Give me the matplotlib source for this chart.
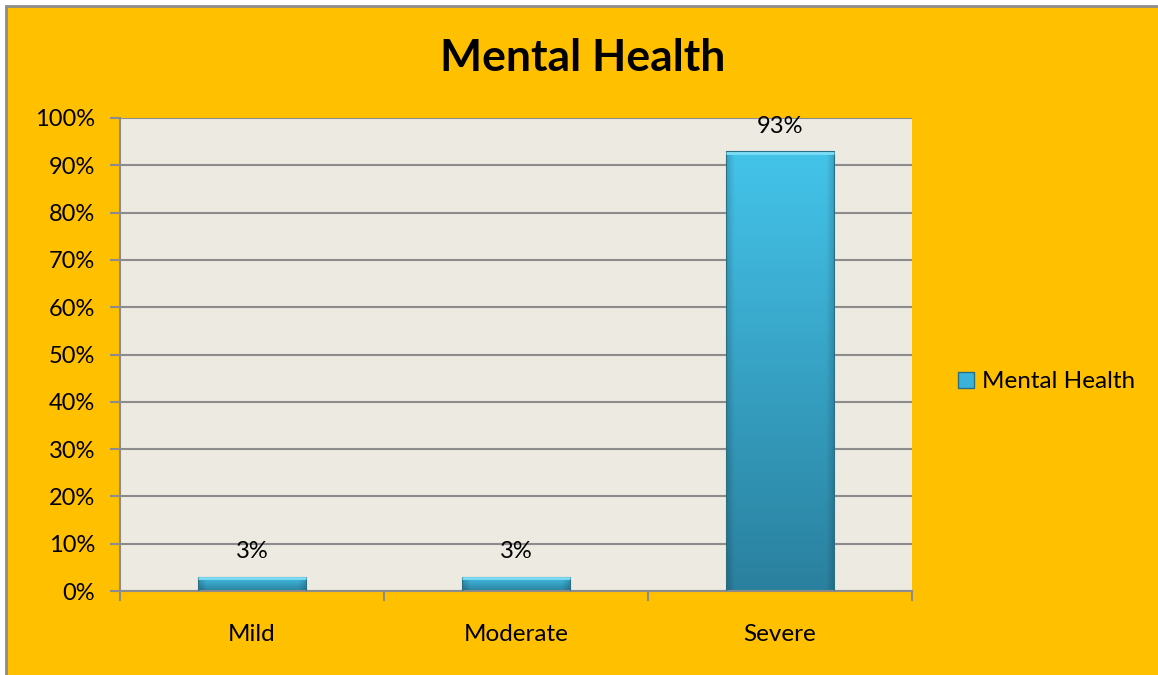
import numpy as np
import matplotlib.pyplot as plt
from matplotlib.patches import Rectangle

categories = ['Mild', 'Moderate', 'Severe']
values = [3, 3, 93]
labels = ['3%', '3%', '93%']
yticks = list(range(0, 101, 10))

plt.rcParams['font.family'] = ['Lato', 'DejaVu Sans']

W, H = 1158, 675
fig = plt.figure(figsize=(W / 100, H / 100), dpi=100, facecolor='white')

# yellow chart area with gray frame (cut off on right/bottom)
fig.patches.append(Rectangle((6 / W, -0.05), 1.1, (H - 6) / H + 0.05,
                             transform=fig.transFigure, facecolor='#FFC000',
                             edgecolor='#8C8C8C', lw=2, zorder=-5))

ax = fig.add_axes([120 / W, 1 - 591 / H, (912 - 120) / W, (591 - 118) / H])
ax.set_facecolor('#EDEAE1')

x = np.arange(len(categories))
bars = ax.bar(x, values, width=0.41, color='none', edgecolor='#2A6F86', lw=0.8, zorder=3)

# gradient fill for the bars
ny = 200
vert = np.linspace(0, 1, ny)[:, None]
horiz = np.linspace(-1, 1, 100)[None, :]
top = np.array([0x44, 0xC4, 0xEA]) / 255
bot = np.array([0x2A, 0x80, 0x9E]) / 255
shade = 1 - 0.18 * np.clip(np.abs(horiz) - 0.85, 0, None) / 0.15
img = (bot[None, None, :] * (1 - vert[..., None]) + top[None, None, :] * vert[..., None])
img = img * shade[..., None]
img = np.clip(img, 0, 1)
for b in bars:
    x0, w, h = b.get_x(), b.get_width(), b.get_height()
    im = ax.imshow(img, extent=[x0, x0 + w, 0, h], origin='lower', aspect='auto', zorder=2)
    im.set_clip_path(b)
    # bright top bevel
    ax.plot([x0, x0 + w], [h - 0.3, h - 0.3], color='#7FDCF5', lw=2, zorder=3,
            solid_capstyle='butt')

for xi, v, lab in zip(x, values, labels):
    ax.annotate(lab, (xi, v), xytext=(0, 18), textcoords='offset points',
                ha='center', va='center', fontsize=17, color='black')

ax.set_xlim(-0.5, len(categories) - 0.5)
ax.set_ylim(0, 100)
ax.set_yticks(yticks)
ax.set_yticklabels([f'{t}%' for t in yticks], fontsize=17)
ax.set_xticks(x)
ax.set_xticklabels(categories, fontsize=17.5)
ax.set_xticks(np.arange(-0.5, len(categories)), minor=True)
ax.tick_params(axis='x', which='major', length=0, pad=24)
ax.tick_params(axis='x', which='minor', length=7, color='#8C8C8C', width=1.5)
ax.tick_params(axis='y', length=7, color='#8C8C8C', width=1.5, pad=11)
ax.grid(axis='y', color='#8C8C8C', lw=1.5, zorder=1)
ax.set_axisbelow(True)
for s in ['top', 'right']:
    ax.spines[s].set_visible(False)
for s in ['left', 'bottom']:
    ax.spines[s].set_color('#8C8C8C')
    ax.spines[s].set_linewidth(1.5)

fig.text(583 / W, 1 - 58 / H, 'Mental Health', ha='center', va='center',
         fontsize=32, fontweight='bold')

handle = Rectangle((0, 0), 1, 1, facecolor='#3BB3D8', edgecolor='#2A6F86')
fig.legend([handle], ['Mental Health'], loc='center left',
           bbox_to_anchor=(936 / W, 1 - 382 / H), frameon=False, fontsize=17.5,
           handlelength=0.65, handleheight=0.65, handletextpad=0.35)

fig.savefig('out.png', dpi=100, facecolor=fig.get_facecolor())
